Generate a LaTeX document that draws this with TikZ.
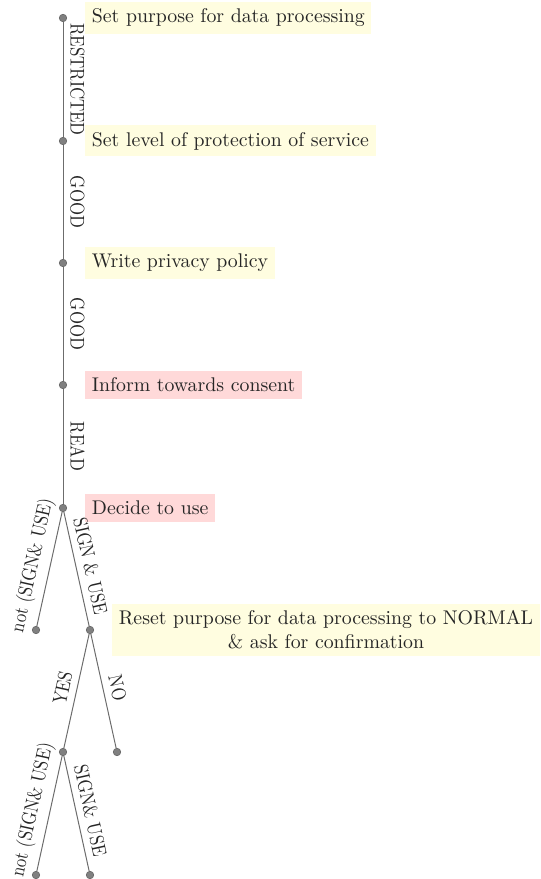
\documentclass[tikz,border=0pt]{standalone}
\usetikzlibrary{positioning}
% edge labels are set slightly condensed
\newcommand{\condensed}[1]{\scalebox{0.85}[1]{#1}}
\begin{document}
\begin{tikzpicture}[x=0.5047pt,y=-0.5047pt,
  dot/.style={circle,fill=gray,draw=gray!80!black,line width=0.3pt,inner sep=0pt,minimum size=3.8pt},
  edge/.style={draw=gray!85!black,line width=0.5pt},
  lbl/.style={midway,above,sloped,text=black!85},
  note/.style={fill=yellow!12,inner sep=3.33pt,text=black!85,align=center},
  warn/.style={fill=red!15,inner sep=3.33pt,text=black!85,align=center}]
\useasboundingbox (0,0) rectangle (541,879);
% decision nodes
\node[dot] (n1) at (63,18) {};
\node[dot] (n2) at (63,141) {};
\node[dot] (n3) at (63,263) {};
\node[dot] (n4) at (63,385) {};
\node[dot] (n5) at (63,508) {};
\node[dot] (l1) at (36,630) {};
\node[dot] (n6) at (90,630) {};
\node[dot] (n7) at (63,752) {};
\node[dot] (l2) at (117,752) {};
\node[dot] (l3) at (36,875) {};
\node[dot] (l4) at (90,875) {};
% annotations
\node[note,right=9pt of n1] (t1) {Set purpose for data processing};
\node[note,right=9pt of n2] (t2) {Set level of protection of service};
\node[note,right=9pt of n3] (t3) {Write privacy policy};
\node[warn,right=9pt of n4] (t4) {Inform towards consent};
\node[warn,right=9pt of n5] (t5) {Decide to use};
\node[note,right=9pt of n6] (t6) {Reset purpose for data processing to NORMAL\\\& ask for confirmation};
% edges with labels
\path[edge] (n1) -- node[lbl] {\condensed{RESTRICTED}} (n2);
\path[edge] (n2) -- node[lbl] {\condensed{GOOD}} (n3);
\path[edge] (n3) -- node[lbl] {\condensed{GOOD}} (n4);
\path[edge] (n4) -- node[lbl] {\condensed{READ}} (n5);
\path[edge] (n5) -- node[lbl] {\condensed{not (SIGN\& USE)}} (l1);
\path[edge] (n5) -- node[lbl] {\condensed{SIGN \& USE}} (n6);
\path[edge] (n6) -- node[lbl] {\condensed{YES}} (n7);
\path[edge] (n6) -- node[lbl] {\condensed{NO}} (l2);
\path[edge] (n7) -- node[lbl] {\condensed{not (SIGN\& USE)}} (l3);
\path[edge] (n7) -- node[lbl] {\condensed{SIGN\& USE}} (l4);
\end{tikzpicture}
\end{document}
